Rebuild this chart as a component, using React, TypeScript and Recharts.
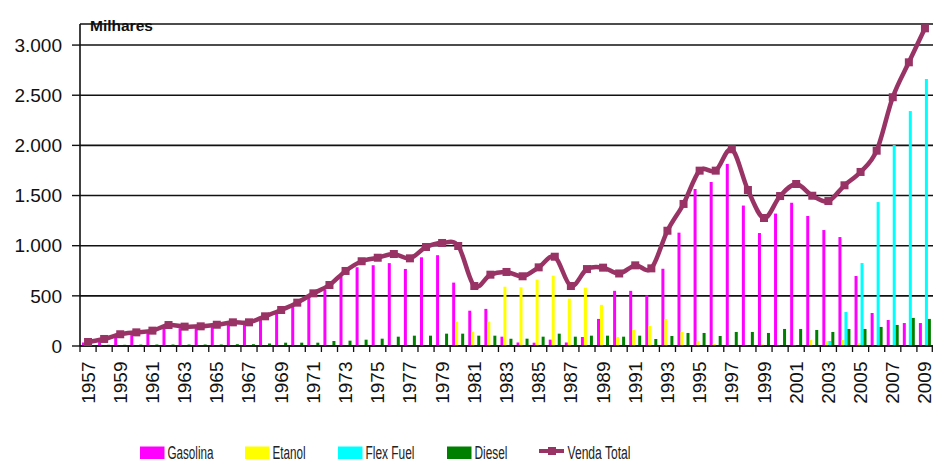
import { ComposedChart, Bar, Line, XAxis, YAxis, CartesianGrid } from 'recharts';

const years = [
  '1957', '1958', '1959', '1960', '1961', '1962', '1963', '1964', '1965', '1966',
  '1967', '1968', '1969', '1970', '1971', '1972', '1973', '1974', '1975', '1976',
  '1977', '1978', '1979', '1980', '1981', '1982', '1983', '1984', '1985', '1986',
  '1987', '1988', '1989', '1990', '1991', '1992', '1993', '1994', '1995', '1996',
  '1997', '1998', '1999', '2000', '2001', '2002', '2003', '2004', '2005', '2006',
  '2007', '2008', '2009',
];

const gasolina = [
  35, 60, 105, 124, 138, 192, 178, 181, 197, 218,
  218, 270, 326, 395, 492, 558, 690, 785, 805, 826,
  768, 884, 905, 632, 352, 370, 93, 35, 33, 63,
  35, 90, 270, 550, 550, 505, 770, 1130, 1565, 1635,
  1815, 1400, 1126, 1320, 1428, 1296, 1156, 1086, 698, 329,
  259, 229, 229,
];

const etanol = [
  0, 0, 0, 0, 0, 0, 0, 0, 0, 0,
  0, 0, 0, 0, 0, 0, 0, 0, 0, 0,
  0, 0, 0, 243, 143, 243, 591, 585, 661, 701,
  472, 581, 410, 90, 160, 200, 270, 140, 50, 20,
  0, 5, 15, 10, 10, 60, 50, 60, 30, 0,
  0, 0, 0,
];

const flexFuel = [
  0, 0, 0, 0, 0, 0, 0, 0, 0, 0,
  0, 0, 0, 0, 0, 0, 0, 0, 0, 0,
  0, 0, 0, 0, 0, 0, 0, 0, 0, 0,
  0, 0, 0, 0, 0, 0, 0, 0, 0, 0,
  0, 0, 0, 0, 0, 0, 50, 339, 827, 1435,
  2003, 2342, 2662,
];

const diesel = [
  5, 12, 12, 14, 15, 15, 15, 15, 15, 18,
  18, 25, 33, 33, 33, 50, 53, 63, 73, 93,
  103, 103, 123, 123, 103, 103, 73, 73, 93, 123,
  93, 103, 103, 93, 103, 70, 100, 130, 130, 100,
  140, 140, 130, 170, 170, 160, 140, 170, 170, 190,
  210, 280, 270,
];

const vendaTotal = [
  40, 70, 117, 136, 153, 209, 193, 196, 212, 236,
  236, 296, 359, 432, 525, 608, 748, 845, 880, 917,
  874, 987, 1027, 997, 598, 711, 738, 695, 784, 890,
  598, 767, 781, 723, 804, 774, 1149, 1416, 1748, 1748,
  1961, 1555, 1276, 1495, 1615, 1498, 1445, 1602, 1735, 1947,
  2480, 2828, 3167,
];

const yTicks = [0, 500, 1000, 1500, 2000, 2500, 3000];

const data = years.map((year, i) => ({
  year,
  gasolina: gasolina[i],
  etanol: etanol[i],
  flexFuel: flexFuel[i],
  diesel: diesel[i],
  vendaTotal: vendaTotal[i],
}));

const W = 933;
const H = 459;
const AXIS_W = 80;
const PLOT_W = W - AXIS_W;
const FONT = '"Liberation Sans", Arial, sans-serif';
const LINE_COLOR = '#993366';
const INK = '#111';

// Excel-style smoothed line (Catmull-Rom through the points)
function excelSmooth(context: any) {
  let pts: [number, number][] = [];
  return {
    areaStart() {},
    areaEnd() {},
    lineStart() { pts = []; },
    lineEnd() {
      if (!pts.length) return;
      context.moveTo(pts[0][0], pts[0][1]);
      for (let i = 0; i < pts.length - 1; i++) {
        const p0 = pts[i - 1] || pts[i];
        const p1 = pts[i];
        const p2 = pts[i + 1];
        const p3 = pts[i + 2] || p2;
        context.bezierCurveTo(
          p1[0] + (p2[0] - p0[0]) / 6, p1[1] + (p2[1] - p0[1]) / 6,
          p2[0] - (p3[0] - p1[0]) / 6, p2[1] - (p3[1] - p1[1]) / 6,
          p2[0], p2[1],
        );
      }
    },
    point(x: number, y: number) { pts.push([+x, +y]); },
  };
}

const fmt = (v: number) => String(v).replace(/\B(?=(\d{3})+(?!\d))/g, '.');

function YearTick(props: any) {
  const { x, y, payload } = props;
  const idx = years.indexOf(String(payload.value));
  const bw = PLOT_W / years.length;
  return (
    <g>
      <line x1={x - bw / 2} y1={y} x2={x - bw / 2} y2={y + 6} stroke={INK} strokeWidth={1.3} />
      {idx === years.length - 1 && (
        <line x1={x + bw / 2 - 0.7} y1={y} x2={x + bw / 2 - 0.7} y2={y + 6} stroke={INK} strokeWidth={1.3} />
      )}
      {idx % 2 === 0 && (
        <text
          transform={`translate(${x + 6.5},${y + 15.5}) rotate(-90)`}
          textAnchor="end"
          fontSize={19}
          fontFamily={FONT}
          fill={INK}
        >
          {payload.value}
        </text>
      )}
    </g>
  );
}

function SquareDot(props: any) {
  const { cx, cy } = props;
  if (cx == null || cy == null) return null;
  return <rect x={cx - 4} y={cy - 4} width={8} height={8} fill={LINE_COLOR} />;
}

const legendItems = [
  { label: 'Gasolina', color: '#FF00FF', x: 140, w: 46 },
  { label: 'Etanol', color: '#FFFF00', x: 245, w: 33 },
  { label: 'Flex Fuel', color: '#00FFFF', x: 338, w: 49 },
  { label: 'Diesel', color: '#008000', x: 447, w: 33 },
];

function ChartLegend() {
  return (
    <svg width={W} height={H} style={{ position: 'absolute', left: 0, top: 0, pointerEvents: 'none' }}>
      {legendItems.map((it) => (
        <g key={it.label}>
          <rect x={it.x} y={446.5} width={24.5} height={12.5} fill={it.color} />
          <text x={it.x + 27.5} y={458.5} fontSize={18} fontFamily={FONT} fill="#222"
            textLength={it.w} lengthAdjust="spacingAndGlyphs">
            {it.label}
          </text>
        </g>
      ))}
      <line x1={539} y1={451} x2={564} y2={451} stroke={LINE_COLOR} strokeWidth={4} />
      <rect x={548} y={447} width={8} height={8} fill={LINE_COLOR} />
      <text x={567.5} y={458.5} fontSize={18} fontFamily={FONT} fill="#222"
        textLength={63} lengthAdjust="spacingAndGlyphs">
        Venda Total
      </text>
    </svg>
  );
}

export default function App() {
  return (
    <div style={{ position: 'absolute', left: 0, top: 0, width: W, height: H, background: '#fff', overflow: 'hidden' }}>
      <ComposedChart
        width={W}
        height={H}
        data={data}
        margin={{ top: 24, right: 0, left: 0, bottom: 0 }}
        barSize={3}
        barGap={0}
      >
        <CartesianGrid horizontal vertical={false} stroke={INK} strokeWidth={1.6} />
        <XAxis
          dataKey="year"
          interval={0}
          height={113}
          tickSize={0}
          tickMargin={0}
          tickLine={false}
          axisLine={{ stroke: INK, strokeWidth: 1.6 }}
          tick={<YearTick />}
        />
        <YAxis
          width={AXIS_W}
          domain={[0, 3210]}
          ticks={yTicks}
          tickFormatter={fmt}
          tickSize={8}
          tickMargin={10}
          tickLine={{ stroke: INK, strokeWidth: 1.4 }}
          axisLine={{ stroke: INK, strokeWidth: 1.6 }}
          tick={{ fontSize: 19, fontFamily: FONT, fill: INK }}
        />
        <Bar dataKey="gasolina" fill="#FF00FF" barSize={3} isAnimationActive={false} />
        <Bar dataKey="etanol" fill="#FFFF00" barSize={3} isAnimationActive={false} />
        <Bar dataKey="flexFuel" fill="#00FFFF" barSize={3} isAnimationActive={false} />
        <Bar dataKey="diesel" fill="#008000" barSize={3} isAnimationActive={false} />
        <Line
          dataKey="vendaTotal"
          type={excelSmooth as any}
          stroke={LINE_COLOR}
          strokeWidth={4.5}
          dot={<SquareDot />}
          activeDot={false}
          isAnimationActive={false}
        />
        <text x={90} y={31} fontSize={15.5} fontWeight="bold" fontFamily={FONT} fill={INK}>
          Milhares
        </text>
      </ComposedChart>
      <ChartLegend />
    </div>
  );
}
